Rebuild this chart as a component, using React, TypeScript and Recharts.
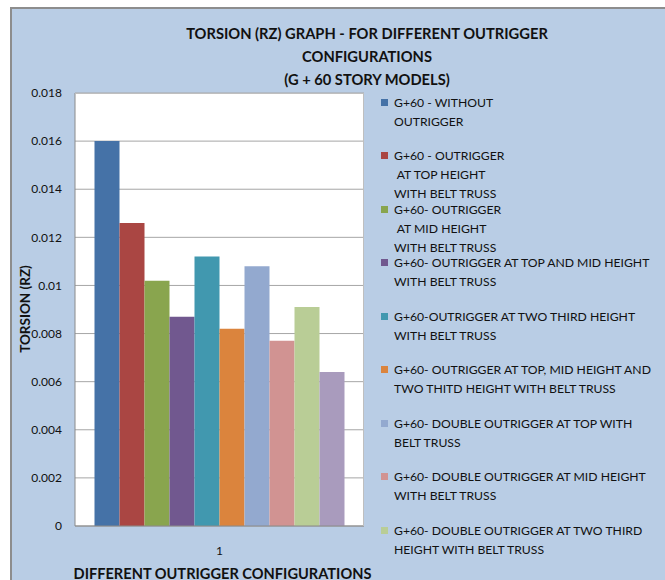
import React from 'react';
import { BarChart, Bar, XAxis, YAxis, CartesianGrid, Label } from 'recharts';

const categories = ['1'];
const seriesNames = [
  'G+60 - WITHOUT\nOUTRIGGER',
  'G+60 - OUTRIGGER\n AT TOP HEIGHT\nWITH BELT TRUSS',
  'G+60- OUTRIGGER\n AT MID HEIGHT\nWITH BELT TRUSS',
  'G+60- OUTRIGGER AT TOP AND MID HEIGHT\nWITH BELT TRUSS',
  'G+60-OUTRIGGER AT TWO THIRD HEIGHT\nWITH BELT TRUSS',
  'G+60- OUTRIGGER AT TOP, MID HEIGHT AND\nTWO THITD HEIGHT WITH BELT TRUSS',
  'G+60- DOUBLE OUTRIGGER AT TOP WITH\nBELT TRUSS',
  'G+60- DOUBLE OUTRIGGER AT MID HEIGHT\nWITH BELT TRUSS',
  'G+60- DOUBLE OUTRIGGER AT TWO THIRD\nHEIGHT WITH BELT TRUSS',
  'G+60- SERIES 10',
];
const seriesValues = [0.016, 0.0126, 0.0102, 0.0087, 0.0112, 0.0082, 0.0108, 0.0077, 0.0091, 0.0064];
const seriesColors = [
  '#4572A7', '#AA4643', '#89A54E', '#71588F', '#4198AF',
  '#DB843D', '#93A9CF', '#D19392', '#B9CD96', '#A99BBD',
];
const yTicks = [0, 0.002, 0.004, 0.006, 0.008, 0.01, 0.012, 0.014, 0.016, 0.018];
const titleLines = ['TORSION (RZ) GRAPH - FOR DIFFERENT OUTRIGGER', 'CONFIGURATIONS', '(G + 60 STORY MODELS)'];
const xTitle = 'DIFFERENT OUTRIGGER CONFIGURATIONS';
const yTitle = 'TORSION (RZ)';
const visibleLegendCount = 9;

const data = categories.map((c) => {
  const row: Record<string, number | string> = { name: c };
  seriesValues.forEach((v, i) => {
    row['s' + i] = v;
  });
  return row;
});

const FONT = 'Lato, "Liberation Sans", sans-serif';
const TEXT = '#111111';

export default function App() {
  return (
    <div
      style={{
        position: 'absolute',
        left: 10,
        top: 7,
        width: 680,
        height: 600,
        border: '2px solid #8d8d8d',
        borderRight: 'none',
        borderBottom: 'none',
        background: '#B9CDE5',
        overflow: 'hidden',
        fontFamily: FONT,
        color: TEXT,
      }}
    >
      {titleLines.map((t, i) => (
        <div
          key={i}
          style={{
            position: 'absolute',
            left: 155,
            width: 400,
            top: 14 + i * 23,
            height: 20,
            lineHeight: '20px',
            textAlign: 'center',
            fontWeight: 700,
            fontSize: 14.7,
          }}
        >
          {t}
        </div>
      ))}
      <div style={{ position: 'absolute', left: 0, top: 0 }}>
        <BarChart
          width={680}
          height={600}
          data={data}
          margin={{ top: 84, right: 328, bottom: 53, left: 13 }}
          barCategoryGap={19.5}
          barGap={0}
        >
          <CartesianGrid vertical={false} stroke="#A6A6A6" fill="#FFFFFF" />
          <XAxis
            dataKey="name"
            height={30}
            tickLine={false}
            tickSize={0}
            tickMargin={20}
            axisLine={{ stroke: '#8a8a8a' }}
            tick={{ fill: TEXT, fontSize: 12, fontFamily: FONT }}
          >
            <Label
              content={({ viewBox }: any) => (
                <text
                  x={viewBox.x + viewBox.width / 2 + 3}
                  y={564}
                  textAnchor="middle"
                  dominantBaseline="central"
                  fontFamily={FONT}
                  fontWeight={700}
                  fontSize={14.6}
                  fill={TEXT}
                >
                  {xTitle}
                </text>
              )}
            />
          </XAxis>
          <YAxis
            width={50}
            domain={[0, 0.018]}
            ticks={yTicks}
            interval={0}
            tickLine={false}
            tickSize={5}
            tickMargin={8}
            axisLine={{ stroke: '#8a8a8a' }}
            tickFormatter={(v: number) => String(v)}
            tick={{ fill: TEXT, fontSize: 12, fontFamily: FONT }}
          >
            <Label
              content={() => (
                <text
                  x={13}
                  y={300}
                  textAnchor="middle"
                  dominantBaseline="central"
                  transform="rotate(-90 13 300)"
                  fontFamily={FONT}
                  fontWeight={700}
                  fontSize={13.5}
                  fill={TEXT}
                >
                  {yTitle}
                </text>
              )}
            />
          </YAxis>
          {seriesValues.map((_, i) => (
            <Bar key={i} dataKey={'s' + i} name={seriesNames[i]} fill={seriesColors[i]} isAnimationActive={false} />
          ))}
        </BarChart>
      </div>
      <div
        style={{
          position: 'absolute',
          left: 63,
          top: 84,
          width: 289,
          height: 433,
          boxSizing: 'border-box',
          borderTop: '1px solid #BFBFBF',
          borderRight: '1px solid #BFBFBF',
          pointerEvents: 'none',
        }}
      />
      {seriesNames.slice(0, visibleLegendCount).map((name, i) => {
        const top = 93 + i * 53.5 - 9.5;
        return (
          <div key={i} style={{ position: 'absolute', left: 369, top, fontSize: 12.2 }}>
            <div
              style={{
                position: 'absolute',
                left: 0,
                top: 6,
                width: 7,
                height: 7,
                background: seriesColors[i],
              }}
            />
            {name.split('\n').map((line, j) => (
              <div
                key={j}
                style={{
                  position: 'absolute',
                  left: 13,
                  top: j * 19,
                  height: 19,
                  lineHeight: '19px',
                  whiteSpace: 'pre',
                }}
              >
                {line}
              </div>
            ))}
          </div>
        );
      })}
    </div>
  );
}
